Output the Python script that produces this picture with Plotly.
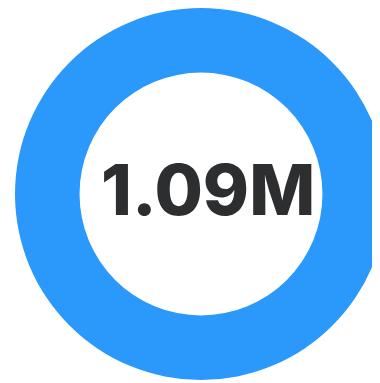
import plotly.graph_objects as go

labels = ["Total"]
values = [1090000]
center_text = "1.09M"

fig = go.Figure(go.Pie(
    labels=labels, values=values, hole=0.653, sort=False,
    marker=dict(colors=["#2A99FB"], line=dict(width=0)),
    textinfo="none", hoverinfo="none", showlegend=False,
))
fig.update_layout(
    width=380, height=383,
    margin=dict(l=7, r=1, t=0, b=11),
    paper_bgcolor="white",
    annotations=[dict(text=center_text, x=0.5175, y=0.5116, xref="paper", yref="paper",
                      xanchor="center", yanchor="middle",
                      showarrow=False, font=dict(family="Inter", size=70, weight=800, color="#2D2E30"))],
)
fig.write_html("out.html")
